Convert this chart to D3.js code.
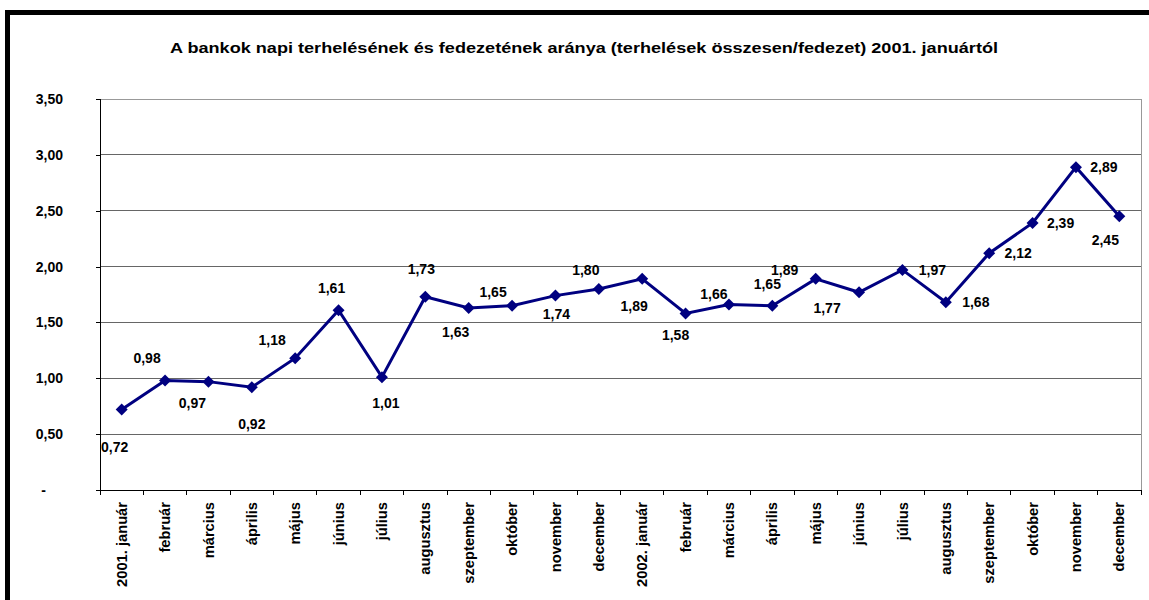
<!DOCTYPE html>
<html>
<head>
<meta charset="utf-8">
<script src="https://cdn.jsdelivr.net/npm/d3@7/dist/d3.min.js"></script>
<style>
  html, body { margin: 0; padding: 0; background: #fff; }
  svg { display: block; font-family: "Liberation Sans", Arial, sans-serif; }
</style>
</head>
<body>
<svg id="chart" width="1149" height="600"></svg>
<script>
// ---- data ----
const title = "A bankok napi terhelésének és  fedezetének aránya (terhelések összesen/fedezet) 2001. januártól";
const months = ["2001. január","február","március","április","május","június","július","augusztus",
  "szeptember","október","november","december","2002. január","február","március","április",
  "május","június","július","augusztus","szeptember","október","november","december"];
const ratio = [0.72,0.98,0.97,0.92,1.18,1.61,1.01,1.73,1.63,1.65,1.74,1.80,
  1.89,1.58,1.66,1.65,1.89,1.77,1.97,1.68,2.12,2.39,2.89,2.45];
const yTicks = [0,0.5,1,1.5,2,2.5,3,3.5];
// label placement offsets (px) relative to each point
const labelOffsets = [[-7,37],[-18,-23],[-16,21],[0,37],[-23,-18],[-7,-22],[4,26],[-4,-28],
  [-13,24],[-19,-14],[1,18],[-13,-19],[-8,27],[-10,22],[-15,-11],[-5,-22],
  [-31,-9],[-32,16],[30,0],[30,0],[29,0],[28,0],[28,0],[-14,24]];

// ---- layout ----
const svg = d3.select("#chart");
const L = 100, R = 1141, T = 99, B = 490;
const fmt = v => v === 0 ? "-" : d3.format(".2f")(v).replace(".", ",");

// outer frame (top + left thick black)
svg.append("rect").attr("x",5).attr("y",10).attr("width",1149-5).attr("height",5).attr("fill","#000");
svg.append("rect").attr("x",5).attr("y",10).attr("width",5).attr("height",600-10).attr("fill","#000");

svg.append("text").attr("x",584).attr("y",47).attr("text-anchor","middle")
  .attr("dominant-baseline","central").attr("font-weight","bold").attr("font-size",15)
  .attr("textLength",828).attr("lengthAdjust","spacingAndGlyphs")
  .text(title);

const x = d3.scaleBand().domain(d3.range(months.length)).range([L, R]).padding(0);
const y = d3.scaleLinear().domain([0, 3.5]).range([B, T]);

// gridlines
svg.append("g").selectAll("line").data(yTicks.filter(v => v > 0)).join("line")
  .attr("x1", L).attr("x2", R).attr("y1", d => y(d)).attr("y2", d => y(d))
  .attr("stroke", d => d === 3.5 ? "#999" : "#666").attr("stroke-width", 1)
  .attr("shape-rendering","crispEdges");
// right border
svg.append("line").attr("x1",R).attr("x2",R).attr("y1",T).attr("y2",B)
  .attr("stroke","#999").attr("shape-rendering","crispEdges");

// y axis
const yAxis = svg.append("g").attr("transform", `translate(${L},0)`)
  .call(d3.axisLeft(y).tickValues(yTicks).tickFormat(fmt).tickSize(4).tickPadding(33));
yAxis.select(".domain").attr("stroke","#000").attr("shape-rendering","crispEdges");
yAxis.selectAll(".tick line").attr("stroke","#000").attr("shape-rendering","crispEdges");
yAxis.selectAll("text").attr("font-size",14).attr("font-weight","bold")
  .attr("font-family","Liberation Sans, Arial, sans-serif").attr("fill","#000");
yAxis.selectAll(".tick").filter(d => d === 0).select("text").attr("x",-54);

// x axis
const xAxis = svg.append("g").attr("transform", `translate(0,${B})`);
xAxis.append("line").attr("x1",L-4).attr("x2",R).attr("stroke","#000").attr("shape-rendering","crispEdges");
xAxis.selectAll(".tk").data(d3.range(months.length + 1)).join("line").attr("class","tk")
  .attr("x1", i => L + i * x.bandwidth()).attr("x2", i => L + i * x.bandwidth())
  .attr("y1", 0).attr("y2", 5).attr("stroke","#000").attr("shape-rendering","crispEdges");
xAxis.selectAll(".lbl").data(months).join("text").attr("class","lbl")
  .attr("transform", (d,i) => `translate(${x(i) + x.bandwidth()/2},12) rotate(-90)`)
  .attr("text-anchor","end").attr("dy","0.35em")
  .attr("font-size",14.7).attr("font-weight","bold").text(d => d);

// line
svg.append("path").datum(ratio)
  .attr("d", d3.line().x((d,i) => x(i) + x.bandwidth()/2).y(d => y(d)))
  .attr("fill","none").attr("stroke","#000080").attr("stroke-width",3).attr("stroke-linejoin","miter");
svg.append("g").selectAll("path").data(ratio).join("path")
  .attr("d", d3.symbol(d3.symbolSquare, 72))
  .attr("transform", (d,i) => `translate(${x(i) + x.bandwidth()/2},${y(d)}) rotate(45)`)
  .attr("fill","#000080");

// labels
svg.append("g").selectAll("text").data(ratio).join("text")
  .attr("x", (d,i) => x(i) + x.bandwidth()/2 + labelOffsets[i][0])
  .attr("y", (d,i) => y(d) + labelOffsets[i][1])
  .attr("text-anchor","middle").attr("dominant-baseline","central")
  .attr("font-size",14).attr("font-weight","bold").attr("fill","#000")
  .text(d => fmt(d));
</script>
</body>
</html>
